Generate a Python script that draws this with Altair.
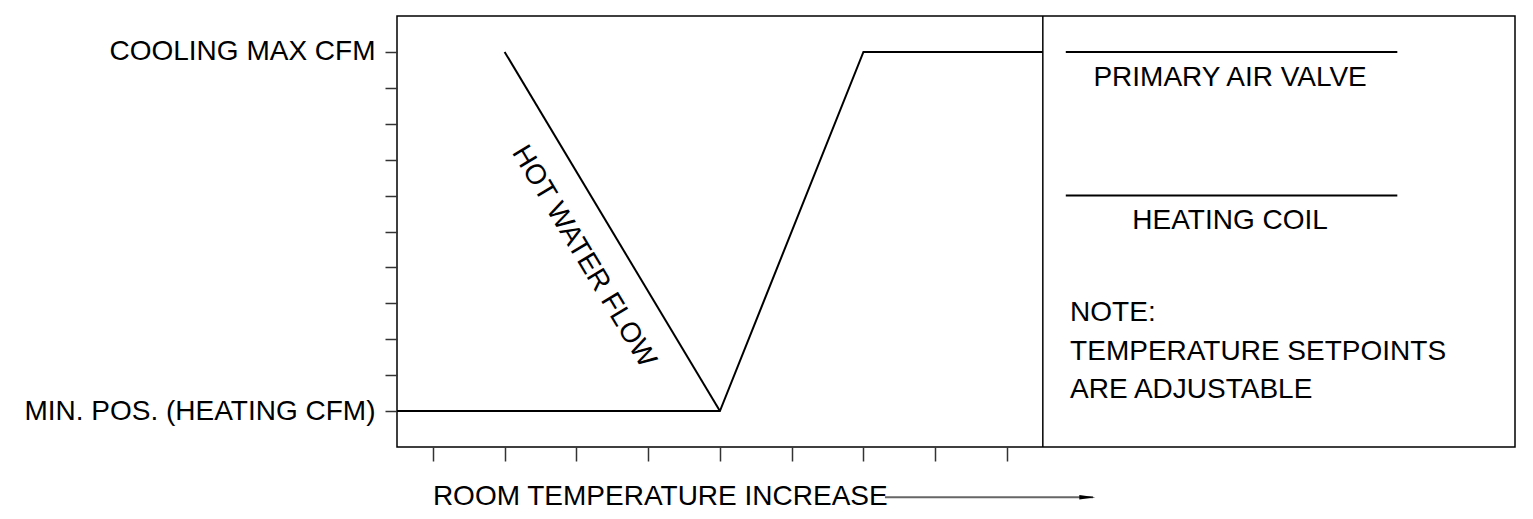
import altair as alt
import pandas as pd

# ---- data ----
x_ticks = [1, 2, 3, 4, 5, 6, 7, 8, 9]
y_ticks = [0, 1, 2, 3, 4, 5, 6, 7, 8, 9, 10]
y_label_max = "COOLING MAX CFM"
y_label_min = "MIN. POS. (HEATING CFM)"

air_valve_x = [0.5, 5, 7, 9.5]
air_valve_y = [0, 0, 10, 10]
hot_water_x = [2, 5]
hot_water_y = [10, 0]
divider_x = [9.5]

legend_line_x = [9.82, 14.44]
legend_line_y = [10, 6]
legend_names = ["PRIMARY AIR VALVE", "HEATING COIL"]
legend_name_x = [12.11, 12.11]
legend_name_y = [9.28, 5.29]

note_lines = ["NOTE:", "TEMPERATURE SETPOINTS", "ARE ADJUSTABLE"]
note_x = [9.88, 9.88, 9.88]
note_y = [2.73, 1.64, 0.58]

hot_label = ["HOT WATER FLOW"]
hot_label_x = [3.1]
hot_label_y = [4.3]

x_title = ["ROOM TEMPERATURE INCREASE"]
x_title_x = [1.0]
x_title_y = [-2.40]
arrow_x = [7.30, 10.20]
arrow_head_x = [10.12]
arrow_y = [-2.40]

FONT = "Liberation Sans, Arial, sans-serif"
FS = 28

xs = alt.Scale(domain=[0.5, 16.08], nice=False, zero=False)
ys = alt.Scale(domain=[-1, 11], nice=False, zero=False)

xaxis = alt.Axis(values=x_ticks, labels=False, tickSize=14, domain=False, grid=False,
                 title=None, tickColor="#333333", tickWidth=1.5)
yaxis = alt.Axis(values=y_ticks, tickSize=12, domain=False, grid=False, title=None,
                 labelExpr=f"datum.value == 10 ? '{y_label_max}' : (datum.value == 0 ? '{y_label_min}' : '')",
                 labelFont=FONT, labelFontSize=FS, labelColor="black", labelPadding=10,
                 labelLimit=1000, tickColor="#333333", tickWidth=1.5, labelBound=False,
                 labelOverlap=False, labelFlush=False)

def X(f="x"):
    return alt.X(f, type="quantitative", scale=xs, axis=xaxis)

def Y(f="y"):
    return alt.Y(f, type="quantitative", scale=ys, axis=yaxis)

valve_df = pd.DataFrame({"x": air_valve_x, "y": air_valve_y, "o": list(range(len(air_valve_x)))})
hot_df = pd.DataFrame({"x": hot_water_x, "y": hot_water_y, "o": list(range(len(hot_water_x)))})

valve = alt.Chart(valve_df).mark_line(color="black", strokeWidth=2).encode(
    x=X(), y=Y(), order="o:Q")
hot = alt.Chart(hot_df).mark_line(color="black", strokeWidth=2).encode(
    x=X(), y=Y(), order="o:Q")

divider = alt.Chart(pd.DataFrame({"x": divider_x})).mark_rule(color="black", strokeWidth=1.5).encode(
    x=X())

leg_df = pd.DataFrame({"x": [legend_line_x[0]] * 2, "x2": [legend_line_x[1]] * 2, "y": legend_line_y})
leg_lines = alt.Chart(leg_df).mark_rule(color="black", strokeWidth=2).encode(
    x=X(), x2="x2", y=Y())

leg_text = alt.Chart(pd.DataFrame({"x": legend_name_x, "y": legend_name_y, "t": legend_names})).mark_text(
    font=FONT, fontSize=FS, align="center", baseline="middle", color="black").encode(
    x=X(), y=Y(), text="t:N")

note_text = alt.Chart(pd.DataFrame({"x": note_x, "y": note_y, "t": note_lines})).mark_text(
    font=FONT, fontSize=FS, align="left", baseline="middle", color="black").encode(
    x=X(), y=Y(), text="t:N")

hot_text = alt.Chart(pd.DataFrame({"x": hot_label_x, "y": hot_label_y, "t": hot_label})).mark_text(
    font=FONT, fontSize=FS, align="center", baseline="middle", color="black", angle=59).encode(
    x=X(), y=Y(), text="t:N")

xt_text = alt.Chart(pd.DataFrame({"x": x_title_x, "y": x_title_y, "t": x_title})).mark_text(
    font=FONT, fontSize=FS, align="left", baseline="middle", color="black").encode(
    x=X(), y=Y(), text="t:N")

arrow_line = alt.Chart(pd.DataFrame({"x": [arrow_x[0]], "x2": [arrow_x[1]], "y": arrow_y})).mark_rule(
    color="#666666", strokeWidth=2).encode(x=X(), x2="x2", y=Y())

arrow_head = alt.Chart(pd.DataFrame({"x": arrow_head_x, "y": arrow_y})).mark_point(
    shape="M-1,-0.28L1,0L-1,0.28Z", filled=True, color="black", size=256, opacity=1).encode(
    x=X(), y=Y())

chart = alt.layer(
    valve, hot, divider, leg_lines, leg_text, note_text, hot_text, xt_text, arrow_line, arrow_head
).properties(
    width=1118, height=431,
    autosize=alt.AutoSizeParams(type="none"),
    padding={"left": 389, "top": 8, "right": 5, "bottom": 64},
    background="white",
).configure_view(stroke="black", strokeWidth=1.5)

chart.save("out.html", embed_options={"renderer": "svg", "actions": False})
